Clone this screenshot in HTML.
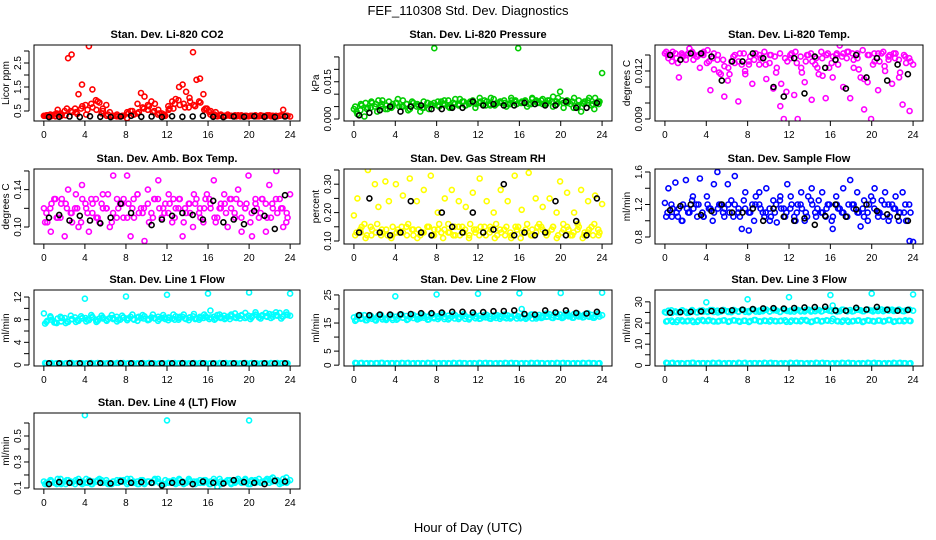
<!DOCTYPE html>
<html><head><meta charset="utf-8"><style>
html,body{margin:0;padding:0;background:#fff;}
svg{display:block;font-family:"Liberation Sans",sans-serif;}
</style></head><body>
<svg id="chart" width="936" height="540" viewBox="0 0 936 540">
<rect width="936" height="540" fill="#fff"/>
<text x="468" y="15" text-anchor="middle" font-size="13">FEF_110308  Std. Dev. Diagnostics</text>
<text x="468" y="532" text-anchor="middle" font-size="13">Hour of Day (UTC)</text>
</svg>
<script>
// ---- data ----
const co2Red=[.3,.32,.28,.35,.55,.3,.5,2.7,2.85,.6,1.2,1.6,.75,3.2,1.4,.95,.85,.6,.75,.45,.3,.28,.27,.3,.2,.5,.35,.8,1.25,1.1,.75,.9,.8,.55,.4,.3,.55,.9,1.0,1.5,1.6,1.3,1.05,2.95,1.8,1.85,1.2,.6,.35,.3,.28,.32,.3,.35,.3,.28,.32,.3,.27,.28,.3,.32,.28,.3,.28,.32,.3,.28,.3,.55,.3,.27];
const co2Red2=[.32,.3,.4,.35,.6,.45,.38,.7,.55,.65,.9,.5,.35,.3,.28,.3,.4,.35,.45,.6,.7,.5,.4,.35,.6,.8,.75,.65,.9,.7,.85,.6,.5,.45,.35,.3,.3,.28,.32,.3,.3,.28,.3,.32,.3,.28,.32,.3];
const co2Red3=[.3,.35,.28,.4,.32,.5,.45,.6,.35,.8,.55,.4,.3,.28,.35,.3,.45,.5,.4,.65,.55,.45,.35,.3,.7,.6,.95,.8,.65,.75,.9,.55,.45,.35,.3,.28,.3,.32,.28,.3,.3,.28,.32,.3,.28,.3,.32,.3];
const co2Black=[.25,.26,.27,.25,.28,.26,.25,.27,.3,.26,.27,.25,.28,.26,.27,.3,.26,.25,.27,.26,.28,.26,.25,.27];
const presGreen=[.004,.002,.006,.001,.0045,.007,.005,.0075,.006,.004,.007,.005,.0065,.005,.0075,.006,.004,.0065,.005,.003,.0045,.0065,.006,.0285,.0055,.007,.006,.0075,.005,.008,.006,.007,.0055,.0065,.0075,.006,.0085,.006,.007,.0055,.008,.0065,.007,.0075,.006,.0085,.007,.0285,.0065,.0075,.006,.0085,.007,.0065,.008,.006,.0075,.009,.007,.011,.0045,.0075,.006,.0085,.005,.003,.007,.0065,.0055,.0085,.006,.0185];
const presGreen2=[.003,.0055,.004,.0065,.003,.0075,.004,.006,.008,.005,.0035,.0065,.0055,.007,.004,.0065,.005,.0075,.0045,.006,.008,.0055,.007,.0045,.007,.0055,.0085,.006,.0065,.005,.0075,.006,.007,.005,.008,.0065,.006,.0075,.005,.0085,.0065,.007,.0045,.0075,.006,.0085,.004,.007];
const presGreen3=[.005,.0035,.0065,.0045,.006,.005,.0055,.0045,.0065,.005,.006,.007,.006,.0045,.0065,.0055,.007,.006,.005,.0065,.0055,.007,.006,.0065,.0065,.0075,.006,.0055,.007,.0065,.006,.0075,.0065,.007,.006,.0075,.0075,.0065,.007,.006,.0075,.0065,.007,.0055,.0065,.0075,.006,.007];
const presBlack=[.0015,.0025,.0035,.005,.003,.005,.0055,.004,.004,.0045,.0045,.007,.0055,.006,.0055,.0055,.0065,.006,.0055,.0055,.007,.0045,.0045,.0065];
const tempMag=[.0131,.0128,.0126,.0131,.0116,.0130,.0127,.0134,.0131,.0129,.0122,.0130,.0125,.0108,.0131,.0127,.0118,.0104,.0114,.0126,.0130,.0101,.0124,.0118,.0126,.0112,.0131,.0124,.0128,.0115,.0130,.0109,.0122,.0098,.0090,.0126,.0128,.0105,.0090,.0122,.0113,.0130,.0102,.0124,.0118,.0128,.0103,.0122,.0116,.0130,.0136,.0110,.0128,.0103,.0122,.0131,.0116,.0096,.0113,.0090,.0126,.0108,.0131,.0120,.0127,.0112,.0131,.0116,.0099,.0125,.0095,.0124];
const tempMag2=[.0130,.0132,.0125,.0129,.0131,.0127,.0130,.0132,.0126,.0121,.0119,.0123,.0118,.0125,.0131,.0120,.0129,.0131,.0128,.0124,.0130,.0119,.0112,.0107,.0131,.0125,.0119,.0130,.0126,.0122,.0117,.0131,.0129,.0124,.0131,.0132,.0127,.0121,.0115,.0130,.0131,.0126,.0123,.0130,.0128,.0119,.0129,.0126];
const tempMag3=[.0132,.0130,.0128,.0131,.0130,.0132,.0129,.0131,.0133,.0128,.0130,.0127,.0122,.0129,.0126,.0131,.0124,.0127,.0130,.0132,.0125,.0129,.0131,.0128,.0130,.0132,.0129,.0126,.0131,.0128,.0132,.0130,.0125,.0131,.0129,.0132,.0131,.0128,.0133,.0130,.0124,.0131,.0132,.0129,.0131,.0127,.0130,.0128];
const tempBlack=[.0130,.0127,.0131,.0131,.0129,.0114,.0126,.0126,.0131,.0128,.0110,.0104,.0128,.0106,.0129,.0122,.0127,.0109,.0130,.0116,.0128,.0114,.0124,.0118];
const boxMag=[.12,.105,.095,.13,.11,.125,.09,.14,.115,.12,.10,.145,.125,.095,.115,.13,.105,.135,.12,.10,.155,.11,.125,.13,.155,.09,.11,.135,.12,.085,.14,.115,.13,.15,.11,.125,.135,.105,.12,.13,.09,.115,.125,.10,.13,.12,.105,.135,.125,.15,.11,.12,.135,.10,.13,.115,.14,.095,.12,.155,.09,.125,.11,.13,.095,.145,.12,.16,.13,.10,.115,.135];
const boxMag2=[.115,.125,.11,.13,.12,.105,.12,.13,.115,.125,.11,.12,.135,.115,.12,.11,.125,.13,.115,.12,.105,.13,.12,.115,.125,.11,.13,.12,.115,.125,.11,.13,.12,.105,.125,.115,.12,.13,.11,.125,.115,.12,.13,.11,.125,.115,.12,.11];
const boxMag3=[.105,.12,.13,.11,.125,.115,.135,.105,.12,.13,.11,.125,.12,.105,.13,.125,.11,.12,.135,.115,.125,.11,.13,.12,.115,.13,.12,.105,.125,.135,.115,.12,.13,.11,.12,.125,.13,.11,.125,.12,.105,.13,.115,.125,.11,.13,.12,.105];
const boxBlack=[.11,.113,.107,.112,.107,.104,.11,.125,.115,.075,.102,.108,.112,.115,.113,.108,.128,.105,.108,.103,.117,.112,.098,.134];
const rhYellow=[.19,.25,.13,.16,.35,.12,.3,.22,.14,.31,.24,.12,.3,.13,.26,.15,.32,.14,.24,.12,.28,.15,.33,.14,.2,.13,.25,.16,.28,.12,.24,.15,.22,.12,.27,.14,.32,.13,.24,.15,.2,.12,.28,.14,.24,.11,.33,.15,.21,.13,.34,.14,.25,.16,.22,.13,.25,.15,.2,.31,.14,.27,.12,.2,.16,.28,.13,.24,.15,.26,.12,.23];
const rhYellow2=[.13,.15,.12,.14,.16,.13,.12,.15,.14,.13,.16,.12,.14,.13,.15,.12,.16,.14,.13,.15,.12,.14,.16,.13,.15,.12,.14,.16,.13,.15,.12,.14,.13,.16,.12,.15,.14,.13,.15,.12,.16,.14,.13,.15,.12,.14,.16,.13];
const rhYellow3=[.12,.14,.11,.15,.13,.12,.14,.11,.13,.15,.12,.14,.11,.13,.15,.12,.14,.11,.13,.12,.15,.13,.11,.14,.12,.15,.13,.11,.14,.12,.13,.15,.11,.14,.12,.13,.15,.12,.14,.11,.13,.15,.12,.14,.11,.13,.12,.14];
const rhBlack=[.13,.25,.13,.12,.13,.24,.13,.12,.2,.15,.13,.2,.13,.14,.3,.12,.13,.12,.13,.24,.12,.17,.12,.25];
const flowBlue=[1.22,1.4,1.05,1.47,1.15,1.0,1.5,1.1,1.3,1.2,1.52,1.05,1.3,1.15,1.45,1.6,1.2,1.05,1.45,1.25,1.55,1.1,.9,1.35,.88,1.2,1.3,1.35,1.1,1.4,1.0,1.25,.98,1.3,1.15,1.45,1.3,1.05,1.2,1.35,1.0,1.3,1.4,1.1,1.25,1.35,1.05,1.2,.9,1.3,1.15,1.4,1.05,1.5,1.2,1.35,.93,1.25,1.1,1.3,1.4,1.05,1.25,1.35,1.0,1.2,1.3,1.1,1.35,1.0,.75,.74];
const flowBlue2=[1.1,1.15,1.05,1.2,1.1,1.15,1.2,1.05,1.15,1.1,1.2,1.15,1.1,1.2,1.05,1.15,1.1,1.2,1.15,1.1,1.05,1.2,1.15,1.1,1.2,1.1,1.15,1.05,1.2,1.15,1.1,1.2,1.05,1.15,1.1,1.2,1.15,1.1,1.05,1.2,1.15,1.1,1.2,1.05,1.15,1.1,1.2,1.1];
const flowBlue3=[1.05,1.2,1.1,1.0,1.15,1.25,1.05,1.1,1.2,1.0,1.15,1.1,1.2,1.05,1.15,1.25,1.1,1.0,1.2,1.05,1.15,1.1,1.25,1.05,1.15,1.0,1.2,1.1,1.25,1.05,1.1,1.15,1.0,1.2,1.1,1.05,1.2,1.1,1.15,1.0,1.25,1.1,1.05,1.2,1.15,1.0,1.1,1.2];
const flowBlack=[1.13,1.18,1.2,1.07,1.12,1.2,1.1,1.1,1.15,1.0,1.15,1.05,1.0,1.03,.95,1.06,1.2,1.05,1.14,1.2,1.12,1.08,1.05,1.0];
const l1Band=[9.1,7.8,8.4,7.5,8.2,7.7,8.3,7.6,8.1,8.4,7.8,8.2,8.3,7.9,8.5,8.0,8.2,8.4,7.9,8.3,8.1,8.5,8.0,8.4,8.2,8.5,8.0,8.4,8.3,8.6,8.1,8.4,8.2,8.5,8.3,8.1,8.4,8.2,8.6,8.3,8.5,8.1,8.4,8.6,8.2,8.5,8.3,8.4,9.6,8.5,8.8,8.3,8.7,8.5,8.9,8.4,8.6,8.8,8.3,8.7,8.6,8.9,8.4,8.8,8.6,9.0,8.5,8.8,9.2,8.6,8.9,8.7];
const l1Band2=[7.6,8.0,7.4,8.3,7.7,8.1,7.9,8.3,8.0,8.4,7.8,8.2,8.1,8.3,8.0,8.4,8.2,8.1,8.5,8.2,8.0,8.3,8.1,8.4,8.3,8.0,8.5,8.2,8.4,8.1,8.3,8.6,8.4,8.2,8.5,8.3,8.6,8.3,8.7,8.5,8.4,8.8,8.6,8.5,8.9,8.7,8.5,8.8];
const l1Band3=[7.3,8.6,7.5,8.5,7.4,8.7,7.6,8.6,7.7,8.8,7.6,8.7,7.8,8.8,7.7,8.7,7.9,8.9,7.8,8.8,7.9,8.9,7.8,8.8,7.9,8.9,8.0,8.9,7.9,9.0,8.0,8.9,8.1,8.0,8.9,8.1,8.1,9.1,8.2,9.2,8.1,9.3,8.2,9.2,8.3,9.3,8.2,9.3];
const l1Low=[.3,.35,.3,.25,.3,.35,.3,.3,.25,.3,.35,.3,.3,.25,.3,.35,.3,.3,.25,.3,.35,.3,.3,.25,.3,.35,.3,.3,.25,.3,.35,.3,.3,.25,.3,.35,.3,.3,.25,.3,.35,.3,.3,.25,.3,.35,.3,.3];
const l1Low2=[.35,.3,.25,.3,.3,.35,.25,.3,.3,.35,.3,.25,.3,.3,.35,.3,.25,.3,.3,.35,.3,.3,.25,.3,.35,.3,.3,.25,.3,.35,.3,.3,.25,.3,.35,.3,.3,.25,.3,.35,.3,.3,.25,.3,.35,.3,.3,.25];
const l1Black=[.3,.3,.32,.3,.28,.3,.3,.32,.3,.3,.28,.3,.3,.32,.3,.3,.28,.3,.3,.32,.3,.3,.28,.3];
const l1Out=[11.7,12.1,12.4,12.6,12.8,12.6];
const l2Band=[17,17.5,16.5,17.8,16.8,17.3,16.2,17.6,17,16.5,17.5,16.8,17.2,17.8,16.9,17.5,17.1,17.9,17.3,16.8,17.6,17.2,18.2,17.0,17.4,17.9,17.1,17.6,17.3,17.8,17.0,17.7,17.4,16.9,17.8,17.3,17.6,17.1,17.9,17.4,17.2,17.8,17.5,17.0,17.7,17.3,17.9,17.4,20,17.8,17.3,18.0,17.5,17.9,17.6,17.2,18.1,17.7,17.4,18.0,17.6,17.9,17.4,18.2,17.7,17.5,18.0,17.6,17.9,17.4,18.1,17.8];
const l2Band2=[16.2,16.8,16.0,16.5,16.9,16.3,16.7,16.1,16.6,16.9,16.4,16.8,16.5,16.9,16.3,16.7,17.0,16.4,16.8,16.6,17.0,16.5,16.9,16.7,16.6,17.0,16.5,16.8,17.1,16.7,17.0,16.6,17.2,16.9,16.6,17.1,17.0,17.3,16.8,17.2,17.0,17.4,16.9,17.3,17.1,17.2,16.9,17.3];
const l2Band3=[15.8,17.8,16.0,17.6,15.9,17.9,16.1,17.8,16.2,18.0,16.1,17.9,16.3,18.1,16.2,18.0,16.4,18.2,16.3,18.1,16.4,18.2,16.3,18.1,16.5,17.9,16.6,17.8,16.5,18.0,16.6,17.9,16.7,16.5,18.0,16.6,16.8,18.4,16.9,18.3,16.8,18.5,16.9,18.4,17.0,18.5,16.9,18.4];
const l2Low=[.7,.8,.7,.6,.7,.8,.7,.7,.6,.7,.8,.7,.7,.6,.7,.8,.7,.7,.6,.7,.8,.7,.7,.6,.7,.8,.7,.7,.6,.7,.8,.7,.7,.6,.7,.8,.7,.7,.6,.7,.8,.7,.7,.6,.7,.8,.7,.7];
const l2Low2=[.8,.7,.6,.7,.7,.8,.6,.7,.7,.8,.7,.6,.7,.7,.8,.7,.6,.7,.7,.8,.7,.7,.6,.7,.8,.7,.7,.6,.7,.8,.7,.7,.6,.7,.8,.7,.7,.6,.7,.8,.7,.7,.6,.7,.8,.7,.7,.6];
const l2Black=[17.8,17.8,18.0,18.0,18.1,18.2,18.5,18.5,18.7,19.0,19.0,18.8,18.9,19.2,19.3,19.5,18.2,18.0,19.5,18.8,19.5,18.6,18.4,19.0];
const l2Out=[24.5,25.2,25.4,25.6,25.7,25.8];
const l3Band=[25.2,25.8,24.8,25.5,25.0,26.0,25.3,24.9,25.6,25.1,25.8,25.4,25.5,26.1,25.2,25.8,25.4,26.0,25.6,25.1,25.9,25.5,26.2,25.3,25.7,26.2,25.4,25.9,25.6,26.3,25.5,26.0,25.8,25.3,26.1,25.7,25.9,25.4,26.2,25.8,25.5,26.3,25.9,25.6,26.1,25.7,26.4,25.8,28.3,26.0,25.6,26.3,25.8,26.1,25.7,26.4,26.0,25.6,26.2,25.9,26.0,25.7,26.4,26.1,25.8,26.3,25.9,26.2,25.7,26.0,26.3,25.8];
const l3Band2=[21.0,20.6,21.3,20.8,21.1,20.5,21.2,20.9,21.4,20.7,21.0,21.3,20.8,21.2,20.6,21.1,20.9,21.4,20.7,21.0,21.3,20.8,21.1,20.6,21.2,20.9,21.4,21.0,20.7,21.3,20.9,21.1,22.0,20.8,21.2,20.6,21.0,21.3,20.8,21.1,20.7,21.2,20.9,21.4,20.8,21.0,21.3,20.9];
const l3Band3=[24.9,26.0,25.1,25.9,24.8,26.1,25.0,26.0,25.2,26.1,25.0,26.2,25.2,26.2,25.3,26.1,25.1,26.3,25.3,26.2,25.4,26.3,25.2,26.2,25.4,26.3,25.5,26.2,25.4,26.4,25.5,26.3,25.6,25.4,26.3,25.5,25.5,26.3,25.6,26.4,25.5,26.4,25.6,26.3,25.7,26.4,25.6,26.4];
const l3Band4=[20.7,21.2,20.5,21.3,20.8,21.1,20.6,21.4,20.9,21.0,20.7,21.2,20.6,21.3,20.9,21.1,20.5,21.4,20.8,21.2,20.7,21.0,20.9,21.3,20.6,21.1,20.8,21.4,20.5,21.2,20.7,21.3,20.9,21.0,20.6,21.2,20.8,21.1,20.5,21.3,20.9,21.2,20.7,21.4,20.6,21.0,20.8,21.1];
const l3Low=[1,1.2,1,.8,1,1.2,1,1,.8,1,1.2,1,1,.8,1,1.2,1,1,.8,1,1.2,1,1,.8,1,1.2,1,1,.8,1,1.2,1,1,.8,1,1.2,1,1,.8,1,1.2,1,1,.8,1,1.2,1,1];
const l3Low2=[1.2,1,.8,1,1,1.2,.8,1,1,1.2,1,.8,1,1,1.2,1,.8,1,1,1.2,1,1,.8,1,1.2,1,1,.8,1,1.2,1,1,.8,1,1.2,1,1,.8,1,1.2,1,1,.8,1,1.2,1,1,.8];
const l3Black=[24.9,25.1,25.3,25.5,25.7,25.9,26.0,26.3,26.6,26.9,27.0,26.8,27.1,27.4,27.5,27.7,25.9,25.8,27.2,26.4,27.6,26.3,25.8,26.2];
const l3Out=[29.8,31.2,32.2,33.2,33.9,33.5];
const l4Band=[.15,.13,.16,.14,.17,.13,.15,.16,.14,.13,.17,.15,.14,.16,.13,.15,.17,.14,.16,.13,.15,.14,.16,.15,.13,.17,.14,.15,.16,.13,.15,.14,.17,.15,.13,.16,.14,.15,.13,.17,.15,.14,.16,.13,.15,.16,.14,.15,.13,.17,.11,.15,.14,.16,.13,.15,.17,.14,.16,.13,.15,.14,.17,.15,.16,.14,.18,.15,.13,.17,.14,.16];
const l4Band2=[.14,.15,.13,.14,.16,.14,.15,.13,.14,.15,.16,.14,.13,.15,.14,.16,.14,.15,.13,.14,.15,.16,.14,.13,.15,.14,.16,.14,.15,.13,.14,.16,.15,.14,.13,.15,.14,.16,.15,.14,.16,.15,.14,.17,.15,.16,.14,.15];
const l4Band3=[.13,.16,.14,.17,.13,.15,.16,.14,.17,.13,.15,.16,.14,.13,.16,.15,.17,.14,.13,.16,.15,.14,.17,.13,.15,.16,.14,.13,.17,.15,.14,.16,.13,.15,.17,.14,.16,.14,.15,.17,.13,.16,.14,.15,.17,.16,.14,.18];
const l4Black=[.13,.145,.14,.145,.15,.14,.135,.15,.14,.145,.14,.12,.14,.145,.13,.15,.14,.135,.16,.145,.14,.13,.155,.15];
const l4OutHours=[4,12,20];
const l4Out=[.66,.62,.62];
const outHours=[4,8,12,16,20,24];
const xTicks=[0,4,8,12,16,20,24];

// ---- layout ----
const cols=[[34,300],[344,612],[655,923]];
const rows=[[45,121],[169,244],[290,366],[413,489]];
const xDom=[-0.96,24.96];
const C={red:'#ff0000',green:'#00cd00',mag:'#ff00ff',yel:'#ffff00',blue:'#0000ff',cyan:'#00ffff',blk:'#000000'};

const panels=[
 {id:'co2',title:'Stan. Dev. Li-820 CO2',yt:'Licor ppm',c:0,r:0,yd:[0.083,3.25],ticks:[.5,1,1.5,2,2.5,3],labels:[.5,1.5,2.5],fmt:v=>v.toFixed(1),
  s:[[co2Red,'full',C.red],[co2Red2,'half',C.red],[co2Red3,'qtr',C.red],[co2Black,'hour',C.blk]]},
 {id:'pressure',title:'Stan. Dev. Li-820 Pressure',yt:'kPa',c:1,r:0,yd:[-0.0008,0.0298],ticks:[0,.005,.01,.015,.02,.025],labels:[0,.015],fmt:v=>v.toFixed(3),
  s:[[presGreen,'full',C.green],[presGreen2,'half',C.green],[presGreen3,'qtr',C.green],[presBlack,'hour',C.blk]]},
 {id:'temp',title:'Stan. Dev. Li-820 Temp.',yt:'degrees C',c:2,r:0,yd:[0.008875,0.013625],ticks:[.009,.01,.011,.012,.013],labels:[.009,.012],fmt:v=>v.toFixed(3),
  s:[[tempMag,'full',C.mag],[tempMag2,'half',C.mag],[tempMag3,'qtr',C.mag],[tempBlack,'hour',C.blk]]},
 {id:'box-temp',title:'Stan. Dev. Amb. Box Temp.',yt:'degrees C',c:0,r:1,yd:[0.0818,0.1621],ticks:[.1,.12,.14,.16],labels:[.1,.14],fmt:v=>v.toFixed(2),
  s:[[boxMag,'full',C.mag],[boxMag2,'half',C.mag],[boxMag3,'qtr',C.mag],[boxBlack,'hour',C.blk]]},
 {id:'rh',title:'Stan. Dev. Gas Stream RH',yt:'percent',c:1,r:1,yd:[0.0894,0.3535],ticks:[.1,.15,.2,.25,.3,.35],labels:[.1,.2,.3],fmt:v=>v.toFixed(2),
  s:[[rhYellow,'full',C.yel],[rhYellow2,'half',C.yel],[rhYellow3,'qtr',C.yel],[rhBlack,'hour',C.blk]]},
 {id:'sample-flow',title:'Stan. Dev. Sample Flow',yt:'ml/min',c:2,r:1,yd:[0.714,1.637],ticks:[.8,1,1.2,1.4,1.6],labels:[.8,1.2,1.6],fmt:v=>v.toFixed(1),
  s:[[flowBlue,'full',C.blue],[flowBlue2,'half',C.blue],[flowBlue3,'qtr',C.blue],[flowBlack,'hour',C.blk]]},
 {id:'line1',title:'Stan. Dev. Line 1 Flow',yt:'ml/min',c:0,r:2,yd:[-0.18,13.24],ticks:[0,2,4,6,8,10,12],labels:[0,4,8,12],fmt:v=>String(v),
  s:[[l1Band,'full',C.cyan],[l1Band2,'half',C.cyan],[l1Band3,'qtr',C.cyan],[l1Low,'half',C.cyan],[l1Low2,'qtr',C.cyan],[l1Out,outHours,C.cyan],[l1Black,'hour',C.blk]]},
 {id:'line2',title:'Stan. Dev. Line 2 Flow',yt:'ml/min',c:1,r:2,yd:[-0.3,26.76],ticks:[0,5,10,15,20,25],labels:[0,5,15,25],fmt:v=>String(v),
  s:[[l2Band,'full',C.cyan],[l2Band2,'half',C.cyan],[l2Band3,'qtr',C.cyan],[l2Low,'half',C.cyan],[l2Low2,'qtr',C.cyan],[l2Out,outHours,C.cyan],[l2Black,'hour',C.blk]]},
 {id:'line3',title:'Stan. Dev. Line 3 Flow',yt:'ml/min',c:2,r:2,yd:[-0.3,35.6],ticks:[0,5,10,15,20,25,30],labels:[0,10,20,30],fmt:v=>String(v),
  s:[[l3Band,'full',C.cyan],[l3Band2,'half',C.cyan],[l3Band3,'qtr',C.cyan],[l3Band4,'qtr',C.cyan],[l3Low,'half',C.cyan],[l3Low2,'qtr',C.cyan],[l3Out,outHours,C.cyan],[l3Black,'hour',C.blk]]},
 {id:'line4',title:'Stan. Dev. Line 4 (LT) Flow',yt:'ml/min',c:0,r:3,yd:[0.092,0.677],ticks:[.1,.2,.3,.4,.5,.6],labels:[.1,.3,.5],fmt:v=>v.toFixed(1),
  s:[[l4Band,'full',C.cyan],[l4Band2,'half',C.cyan],[l4Band3,'qtr',C.cyan],[l4Out,l4OutHours,C.cyan],[l4Black,'hour',C.blk]]}
];

const NS='http://www.w3.org/2000/svg';
const svg=document.getElementById('chart');
function mk(tag,attrs,parent){const e=document.createElementNS(NS,tag);for(const k in attrs)e.setAttribute(k,attrs[k]);parent.appendChild(e);return e;}
function times(spec,n){
  if(Array.isArray(spec))return spec;
  const out=[];
  for(let i=0;i<n;i++){
    if(spec==='full')out.push(i*24/(n-1));
    else if(spec==='half')out.push(0.25+i*24/n);
    else if(spec==='qtr')out.push(0.125+i*24/n);
    else out.push(0.5+i*24/n);
  }
  return out;
}
panels.forEach(p=>{
  const [x0,x1]=cols[p.c],[y0,y1]=rows[p.r];
  const xs=v=>x0+(v-xDom[0])/(xDom[1]-xDom[0])*(x1-x0);
  const ys=v=>y1-(v-p.yd[0])/(p.yd[1]-p.yd[0])*(y1-y0);
  const g=mk('g',{},svg);
  
  
  const t=mk('text',{x:(x0+x1)/2,y:y0-7,'text-anchor':'middle','font-size':11,'font-weight':'bold'},g);
  
  
  t.textContent=p.title;
  const clip=mk('clipPath',{id:'clip-'+p.id},g);
  mk('rect',{x:x0,y:y0,width:x1-x0,height:y1-y0},clip);
  const pts=mk('g',{'clip-path':'url(#clip-'+p.id+')',fill:'none','stroke-width':1.6},g);
  
  
  p.s.forEach(([data,spec,col])=>{
    const tt=times(spec,data.length);
    data.forEach((v,i)=>{
      const c=mk('circle',{cx:xs(tt[i]).toFixed(1),cy:ys(v).toFixed(1),r:2.5,stroke:col},pts);
      
      
    });
  });
  const box=mk('rect',{x:x0,y:y0,width:x1-x0,height:y1-y0,fill:'none',stroke:'#000','stroke-width':1},g);
  
  
  const xa=mk('g',{},g);
  
  
  xTicks.forEach(v=>{
    const X=xs(v);
    mk('line',{x1:X,x2:X,y1:y1,y2:y1+5,stroke:'#000'},xa);
    const l=mk('text',{x:X,y:y1+17,'text-anchor':'middle','font-size':10},xa);
    l.textContent=v;
  });
  const ya=mk('g',{},g);
  
  
  mk('line',{x1:x0-5,x2:x0-5,y1:ys(p.ticks[0]),y2:ys(p.ticks[p.ticks.length-1]),stroke:'#000'},ya);
  p.ticks.forEach(v=>{
    const Y=ys(v);
    mk('line',{x1:x0-5,x2:x0-10,y1:Y,y2:Y,stroke:'#000'},ya);
  });
  p.labels.forEach(v=>{
    const Y=ys(v);
    const l=mk('text',{x:x0-13,y:Y,'text-anchor':'middle','font-size':10,transform:`rotate(-90 ${x0-13} ${Y})`},ya);
    l.textContent=p.fmt(v);
  });
  const yt=mk('text',{x:x0-25,y:(y0+y1)/2,'text-anchor':'middle','font-size':10,transform:`rotate(-90 ${x0-25} ${(y0+y1)/2})`},ya);
  
  
  yt.textContent=p.yt;
});
</script>
</body></html>
